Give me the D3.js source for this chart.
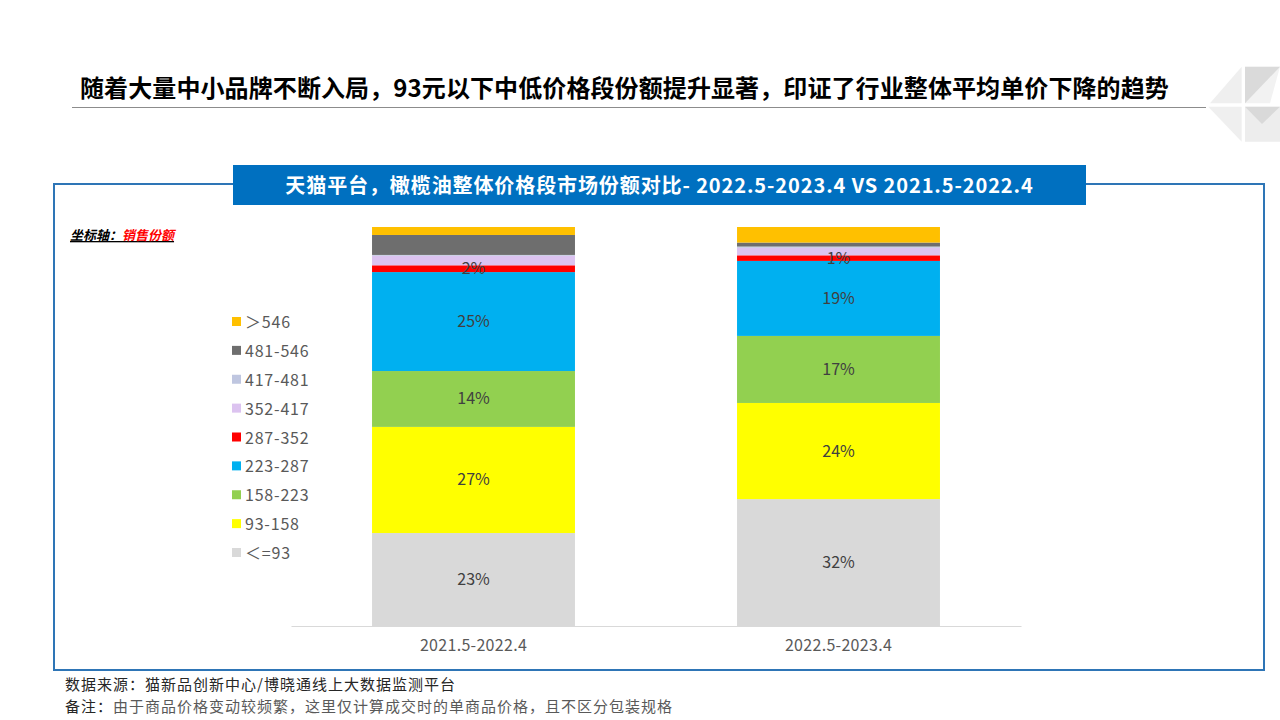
<!DOCTYPE html>
<html><head><meta charset="utf-8">
<script src="https://cdn.jsdelivr.net/npm/d3@7"></script>
<style>
body{margin:0;background:#fff;}
svg{display:block;font-family:"Noto Sans CJK SC","Noto Sans",sans-serif;}
</style></head>
<body>
<svg id="c" width="1280" height="720"></svg>
<script>
const periods = ["2021.5-2022.4","2022.5-2023.4"];
const segments = ["<=93","93-158","158-223","223-287","287-352","352-417","417-481","481-546",">546"];
const legendLabels = ["＞546","481-546","417-481","352-417","287-352","223-287","158-223","93-158","＜=93"];
const colors = ["#D9D9D9","#FFFF00","#92D050","#00B0F0","#FF0000","#DCC3F0","#BFC6E0","#6E6E6E","#FFC000"];
const share2021 = [23.3,26.6,14.0,24.8,1.7,2.4,0.2,5.0,2.0];
const share2022 = [31.8,24.1,16.8,18.8,1.4,1.9,0.3,1.0,3.9];
const labeled = ["<=93","93-158","158-223","223-287","287-352"];

const svg = d3.select("#c");

// header title
svg.append("text").attr("x",80).attr("y",97).attr("font-size",24).attr("font-weight","bold").attr("fill","#000")
  .attr("letter-spacing",0.1)
  .text("随着大量中小品牌不断入局，93元以下中低价格段份额提升显著，印证了行业整体平均单价下降的趋势");
svg.append("line").attr("x1",72).attr("x2",1206).attr("y1",107.5).attr("y2",107.5).attr("stroke","#8C8C8C").attr("stroke-width",1);

// logo
const logo = [
  {p:[[1241.7,66.7],[1241.7,103.3],[1210,103.3]],c:"#EFEFEF"},
  {p:[[1245,66.7],[1280,66.7],[1270,103.3],[1245,103.3]],c:"#F2F2F2"},
  {p:[[1245,66.7],[1280,66.7],[1245,103.3]],c:"#DADADA"},
  {p:[[1208.3,106.7],[1241.7,106.7],[1241.7,141.7]],c:"#EFEFEF"},
  {p:[[1245,106.7],[1280,106.7],[1280,141.7],[1245,141.7]],c:"#EDEDED"},
  {p:[[1245,106.7],[1280,106.7],[1262,124]],c:"#D9D9D9"}
];
svg.append("g").selectAll("polygon").data(logo).join("polygon")
  .attr("points",d=>d.p.map(q=>q.join(",")).join(" ")).attr("fill",d=>d.c);

// frame
svg.append("rect").attr("x",54).attr("y",184).attr("width",1210).attr("height",486)
  .attr("fill","none").attr("stroke","#2E75B6").attr("stroke-width",2);
svg.append("rect").attr("x",233).attr("y",165).attr("width",853).attr("height",40).attr("fill","#0070C0");
svg.append("text").attr("x",659.5).attr("y",193).attr("text-anchor","middle").attr("font-size",20)
  .attr("letter-spacing",0.9)
  .attr("font-weight","bold").attr("fill","#fff").text("天猫平台，橄榄油整体价格段市场份额对比- 2022.5-2023.4 VS 2021.5-2022.4");

// axis label
const al = svg.append("text").attr("x",70).attr("y",240).attr("font-size",13).attr("font-weight","bold")
  .attr("font-style","italic").attr("text-decoration","underline");
al.append("tspan").attr("fill","#000").text("坐标轴：");
al.append("tspan").attr("fill","#FF0000").text("销售份额");

// data
const rows = periods.map((p,i)=>{
  const r={period:p};
  segments.forEach((s,j)=>{ r[s] = (i===0?share2021:share2022)[j]; });
  return r;
});
const stack = d3.stack().keys(segments)(rows);

const x = d3.scaleBand().domain(periods).range([291,1021]).paddingInner(0.444).paddingOuter(0.222);
const y = d3.scaleLinear().domain([0,100]).range([626,227]);
const color = d3.scaleOrdinal().domain(segments).range(colors);

const g = svg.append("g");
g.selectAll("g.s").data(stack).join("g").attr("class","s").attr("fill",d=>color(d.key))
  .selectAll("rect").data(d=>d).join("rect")
  .attr("x",d=>x(d.data.period)).attr("width",x.bandwidth())
  .attr("y",d=>y(d[1])).attr("height",d=>y(d[0])-y(d[1]));

// labels
const lab = svg.append("g");
stack.filter(s=>labeled.includes(s.key)).forEach(s=>{
  lab.selectAll(null).data(s).join("text")
    .attr("x",d=>x(d.data.period)+x.bandwidth()/2)
    .attr("y",d=>(y(d[0])+y(d[1]))/2+5.5)
    .attr("text-anchor","middle").attr("font-size",16).attr("fill","#404040")
    .text(d=>Math.round(d[1]-d[0])+"%");
});

// x axis
const ax = svg.append("g").attr("transform","translate(0,626)").call(d3.axisBottom(x).tickSize(0).tickPadding(14));
ax.select(".domain").attr("stroke","#D9D9D9");
ax.selectAll("text").attr("font-size",16).attr("letter-spacing",0.3).attr("fill","#595959").attr("font-family","\"Noto Sans CJK SC\",sans-serif");

// legend
const legendColors = legendLabels.map((l,i)=>colors[colors.length-1-i]);
const lg = svg.append("g");
const ly = d3.scalePoint().domain(legendLabels).range([322,553]);
lg.selectAll("rect").data(legendLabels).join("rect")
  .attr("x",232).attr("y",d=>ly(d)-5).attr("width",9).attr("height",9)
  .attr("fill",(d,i)=>legendColors[i]);
lg.selectAll("text").data(legendLabels).join("text")
  .attr("x",245).attr("y",d=>ly(d)+6).attr("font-size",16).attr("letter-spacing",0.8).attr("fill","#595959").text(d=>d);

// footer
svg.append("text").attr("x",65).attr("y",690).attr("font-size",15).attr("letter-spacing",1).attr("fill","#262626")
  .text("数据来源：猫新品创新中心/博晓通线上大数据监测平台");
const ft = svg.append("text").attr("x",65).attr("y",712).attr("font-size",15).attr("letter-spacing",1);
ft.append("tspan").attr("fill","#262626").text("备注：");
ft.append("tspan").attr("fill","#595959").text("由于商品价格变动较频繁，这里仅计算成交时的单商品价格，且不区分包装规格");
</script>
</body></html>
